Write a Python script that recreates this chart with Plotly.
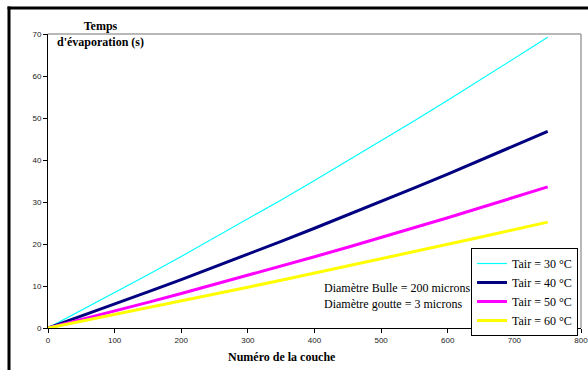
import plotly.graph_objects as go

couches = [0, 50, 100, 150, 200, 250, 300, 350, 400, 450, 500, 550, 600, 650, 700, 750]
t30 = [0, 4.16, 8.39, 12.68, 17.04, 21.46, 25.94, 30.49, 35.10, 39.78, 44.53, 49.33, 54.20, 59.14, 64.14, 69.21]
t40 = [0, 2.82, 5.68, 8.58, 11.53, 14.52, 17.56, 20.63, 23.75, 26.91, 30.12, 33.37, 36.66, 40.00, 43.37, 46.80]
t50 = [0, 2.00, 4.04, 6.10, 8.20, 10.35, 12.52, 14.72, 16.96, 19.24, 21.55, 23.89, 26.26, 28.68, 31.12, 33.60]
t60 = [0, 1.59, 3.19, 4.79, 6.42, 8.06, 9.72, 11.38, 13.06, 14.75, 16.47, 18.18, 19.92, 21.67, 23.43, 25.20]

series_names = ["Tair = 30 °C", "Tair = 40 °C", "Tair = 50 °C", "Tair = 60 °C"]
series_values = [t30, t40, t50, t60]
series_colors = ["#00FFFF", "#000080", "#FF00FF", "#FFFF00"]
series_widths = [1.2, 3, 3, 3]

x_ticks = [0, 100, 200, 300, 400, 500, 600, 700, 800]
y_ticks = [0, 10, 20, 30, 40, 50, 60, 70]

fig = go.Figure()
for name, vals, col, w in zip(series_names, series_values, series_colors, series_widths):
    fig.add_trace(go.Scatter(x=couches, y=vals, mode="lines", name=name,
                             line=dict(color=col, width=w)))

serif = "Liberation Serif, Times New Roman, serif"
sans = "Liberation Sans, Arial, sans-serif"

W, H = 588, 370
L, R, T, B = 48, 7, 34, 42
pw, ph = W - L - R, H - T - B


def px_x(px):
    return (px - L) / pw


def px_y(py):
    return ((H - B) - py) / ph


fig.update_layout(
    width=W, height=H,
    margin=dict(l=L, r=R, t=T, b=B, autoexpand=False),
    paper_bgcolor="white", plot_bgcolor="white",
    showlegend=True,
    legend=dict(x=px_x(578), y=px_y(248), xanchor="right", yanchor="top",
                bgcolor="white", bordercolor="black", borderwidth=1,
                font=dict(family=serif, size=12, color="black"),
                itemwidth=30, tracegroupgap=0),
    xaxis=dict(range=[0, 800], tickvals=x_ticks, showgrid=False, zeroline=False,
               showline=True, linecolor="black", linewidth=1,
               ticks="outside", ticklen=4, tickcolor="black",
               ticklabeloverflow="allow", automargin=False,
               tickfont=dict(family=sans, size=8, color="#222")),
    yaxis=dict(range=[0, 70], tickvals=y_ticks, showgrid=False, zeroline=False,
               showline=True, linecolor="black", linewidth=1,
               ticks="outside", ticklen=4, tickcolor="black",
               automargin=False,
               tickfont=dict(family=sans, size=8, color="#222")),
    shapes=[
        dict(type="line", xref="paper", yref="paper", x0=0, x1=1, y0=1, y1=1,
             line=dict(color="#a0a0a0", width=1.5)),
        dict(type="line", xref="paper", yref="paper", x0=1, x1=1, y0=0, y1=1,
             line=dict(color="#a0a0a0", width=1.5)),
        dict(type="line", xref="paper", yref="paper", x0=px_x(9), x1=px_x(9), y0=px_y(6.5), y1=px_y(400),
             line=dict(color="black", width=3)),
        dict(type="line", xref="paper", yref="paper", x0=px_x(7.5), x1=px_x(640), y0=px_y(8), y1=px_y(8),
             line=dict(color="black", width=3)),
    ],
    annotations=[
        dict(text="<b>Temps<br>d'évaporation (s)</b>", xref="paper", yref="paper",
             x=px_x(100), y=px_y(34), xanchor="center", yanchor="middle",
             showarrow=False, align="center",
             font=dict(family=serif, size=12, color="black")),
        dict(text="<b>Numéro de la couche</b>", xref="paper", yref="paper",
             x=px_x(282), y=px_y(357), xanchor="center", yanchor="middle",
             showarrow=False, font=dict(family=serif, size=12, color="black")),
        dict(text="Diamètre Bulle = 200 microns<br>Diamètre goutte = 3 microns",
             xref="paper", yref="paper",
             x=px_x(322), y=px_y(296), xanchor="left", yanchor="middle",
             showarrow=False, align="left",
             font=dict(family=serif, size=12, color="black")),
    ],
)

fig.write_html(
    "out.html",
    config={"displayModeBar": False},
    post_script="document.body.style.margin='0';document.body.style.overflow='hidden';",
)
